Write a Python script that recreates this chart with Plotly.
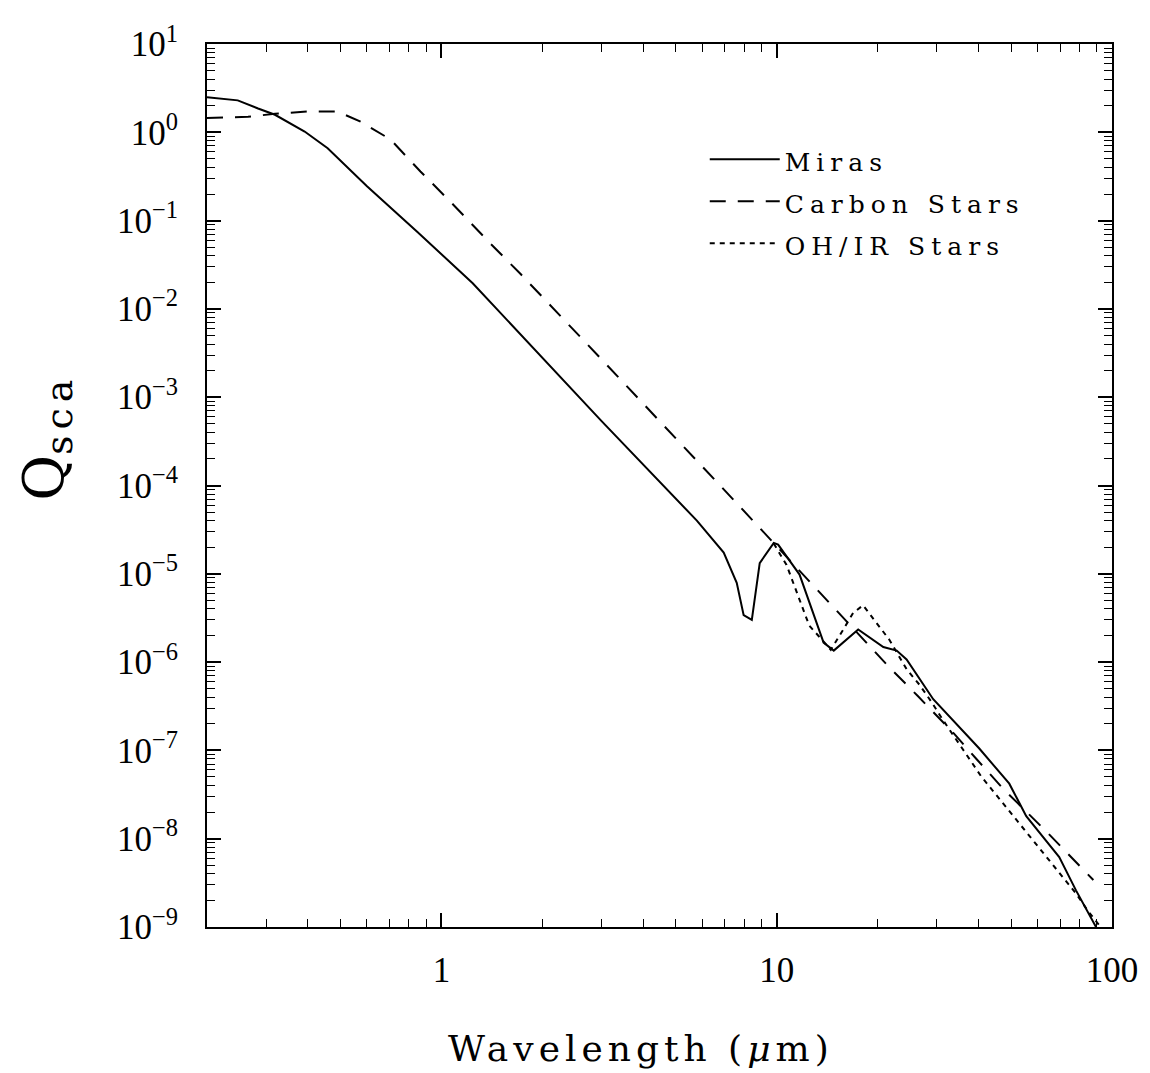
import plotly.graph_objects as go

# ---- data ----
miras_wl = [0.2, 0.247, 0.284, 0.319, 0.391, 0.458, 0.60, 0.85, 1.24, 3.0, 5.78, 6.95,
            7.6, 7.97, 8.43, 8.9, 9.8, 10.1, 11.7, 13.8, 14.8, 17.5, 20.8, 22.8, 24.4,
            29.3, 40.2, 49.4, 55.5, 60.5, 69.6, 78.1, 89.6]
miras_q = [2.5, 2.3, 1.86, 1.58, 1.02, 0.66, 0.245, 0.074, 0.0195, 5.4e-4, 4.0e-5, 1.74e-5,
           7.9e-6, 3.4e-6, 3.0e-6, 1.32e-5, 2.24e-5, 2.14e-5, 9.8e-6, 1.66e-6, 1.35e-6,
           2.34e-6, 1.48e-6, 1.35e-6, 1.07e-6, 3.8e-7, 1.05e-7, 4.2e-8, 1.8e-8, 1.2e-8,
           6.2e-9, 2.6e-9, 1.0e-9]

carbon_wl = [0.2, 0.265, 0.319, 0.40, 0.49, 0.574, 0.705, 0.866, 1.06, 1.40, 1.72, 3.0,
             7.6, 9.2, 12.1, 14.6, 19.8, 21.7, 26.4, 33.8, 39.3, 47.3, 64.5, 88.0]
carbon_q = [1.45, 1.5, 1.62, 1.72, 1.72, 1.32, 0.83, 0.36, 0.166, 0.055, 0.025, 2.7e-3,
            6.3e-5, 2.9e-5, 9.5e-6, 4.4e-6, 1.29e-6, 8.7e-7, 4.1e-7, 1.55e-7, 8.1e-8,
            3.7e-8, 1.15e-8, 3.4e-9]

ohir_wl = [9.8, 10.7, 12.5, 14.5, 15.8, 16.9, 18.1, 19.8, 21.7, 24.4, 26.7, 29.0, 31.1,
           40.7, 47.4, 56.0, 66.5, 78.1, 85.0, 92.5]
ohir_q = [2.2e-5, 1.26e-5, 2.6e-6, 1.38e-6, 2.34e-6, 3.6e-6, 4.4e-6, 2.8e-6, 1.78e-6,
          8.3e-7, 5.5e-7, 3.5e-7, 2.3e-7, 5.1e-8, 2.5e-8, 1.17e-8, 5.2e-9, 2.4e-9, 1.5e-9,
          1.0e-9]

x_tickvals = [1, 10, 100]
x_ticktext = ["1", "10", "100"]
y_tickvals = [1e-9, 1e-8, 1e-7, 1e-6, 1e-5, 1e-4, 1e-3, 1e-2, 1e-1, 1, 10]
y_ticktext = ["10<sup>−9</sup>", "10<sup>−8</sup>", "10<sup>−7</sup>", "10<sup>−6</sup>",
              "10<sup>−5</sup>", "10<sup>−4</sup>", "10<sup>−3</sup>", "10<sup>−2</sup>",
              "10<sup>−1</sup>", "10<sup>0</sup>", "10<sup>1</sup>"]

x_title = "Wavelength (<i>μ</i>m)"
y_title_main = "Q"
y_title_sub = "sca"

SERIF = "DejaVu Serif"
TICKFONT = "Liberation Serif"


def minor_positions(lo_exp, hi_exp):
    vals = []
    for e in range(lo_exp, hi_exp):
        for m in range(2, 10):
            vals.append(m * 10.0 ** e)
    return vals


def legend_label(s):
    return "<span style='font-size:25px;letter-spacing:6px'>" + s + "</span>"


fig = go.Figure()
fig.add_trace(go.Scatter(x=miras_wl, y=miras_q, mode="lines", name=legend_label("Miras"),
                         line=dict(color="black", width=2)))
fig.add_trace(go.Scatter(x=carbon_wl, y=carbon_q, mode="lines", name=legend_label("Carbon Stars"),
                         line=dict(color="black", width=2, dash="16px,12px")))
fig.add_trace(go.Scatter(x=ohir_wl, y=ohir_q, mode="lines", name=legend_label("OH/IR Stars"),
                         line=dict(color="black", width=2, dash="5px,5px")))

axis_common = dict(
    showgrid=False, zeroline=False, showline=True, linecolor="black", linewidth=2,
    mirror="ticks", ticks="inside", ticklen=14, tickwidth=1.5, tickcolor="black",
    tickfont=dict(family=TICKFONT, size=35, color="black"),
)

fig.update_xaxes(type="log", range=[-0.699, 2.0], tickmode="array",
                 tickvals=x_tickvals, ticktext=x_ticktext, ticklabelstandoff=11,
                 minor=dict(tickmode="array", tickvals=minor_positions(-1, 2), ticks="inside",
                            ticklen=8, tickwidth=1, tickcolor="black", showgrid=False),
                 **axis_common)
fig.update_yaxes(type="log", range=[-9, 1], tickmode="array",
                 tickvals=y_tickvals, ticktext=y_ticktext, ticklabelstandoff=20,
                 minor=dict(tickmode="array", tickvals=minor_positions(-9, 1), ticks="inside",
                            ticklen=8, tickwidth=1, tickcolor="black", showgrid=False),
                 **axis_common)

# axis titles as annotations (placed off-centre as in the reference)
fig.add_annotation(
    text="<span style='letter-spacing:5px'>" + x_title + "</span>",
    xref="paper", yref="paper", x=0.48, y=-0.138, xanchor="center", yanchor="middle",
    showarrow=False, font=dict(family=SERIF, size=36, color="black"))
fig.add_annotation(
    text="<span style='font-size:56px'>" + y_title_main + "</span><sub><span style='font-size:38px;letter-spacing:6px'>"
         + y_title_sub + "</span></sub>",
    xref="paper", yref="paper", x=-0.178, y=0.555, xanchor="center", yanchor="middle",
    textangle=-90, showarrow=False, font=dict(family=SERIF, size=44, color="black"))

fig.update_layout(
    width=1142, height=1065,
    margin=dict(l=199, r=33, t=29, b=146),
    paper_bgcolor="white", plot_bgcolor="white",
    font=dict(family=SERIF, color="black"),
    showlegend=True,
    legend=dict(x=0.55, y=0.899, xanchor="left", yanchor="top",
                bgcolor="rgba(0,0,0,0)", borderwidth=0,
                font=dict(family=SERIF, size=30, color="black"),
                itemwidth=70, tracegroupgap=0),
)

fig.write_html("out.html")
